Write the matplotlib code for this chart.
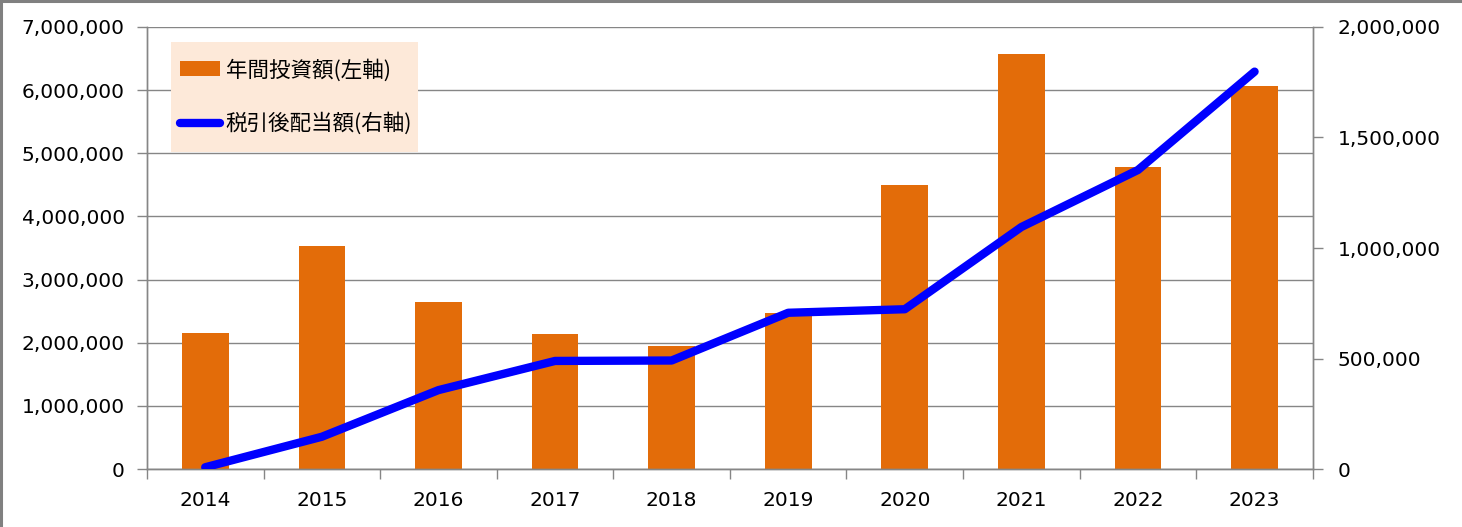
import numpy as np
import matplotlib.pyplot as plt
from matplotlib.ticker import FuncFormatter, FixedLocator
from matplotlib.patches import Rectangle
from matplotlib.lines import Line2D

plt.rcParams['font.family'] = ['DejaVu Sans', 'Noto Sans CJK JP']

# データ
years = ['2014', '2015', '2016', '2017', '2018', '2019', '2020', '2021', '2022', '2023']
invest = [2160000, 3530000, 2650000, 2140000, 1950000, 2470000, 4500000, 6570000, 4790000, 6070000]
dividend = [8000, 146000, 357000, 489000, 491000, 707000, 723000, 1095000, 1353000, 1798000]

bar_label = '年間投資額(左軸)'
line_label = '税引後配当額(右軸)'

grey = '#868686'
fmt = FuncFormatter(lambda v, p: f'{v:,.0f}')

fig = plt.figure(figsize=(14.62, 5.27), dpi=100)
# 外枠 (左と上だけ見えている)
fig.lines.append(Line2D([0.001, 0.001], [0, 1], transform=fig.transFigure, color='#808080', linewidth=2.2))
fig.lines.append(Line2D([0, 1], [0.998, 0.998], transform=fig.transFigure, color='#808080', linewidth=2.2))

ax = fig.add_axes([0.1005, 0.110, 0.7975, 0.8388])
x = np.arange(len(years))

# 棒グラフ (左軸)
bars = ax.bar(x, invest, width=0.40, color='#E36C09', label=bar_label, zorder=2)
ax.set_ylim(0, 7000000)
ax.set_yticks(np.arange(0, 7000001, 1000000))
ax.yaxis.set_major_formatter(fmt)
ax.set_xlim(-0.5, len(years) - 0.5)
ax.set_axisbelow(True)
ax.grid(axis='y', color=grey, linewidth=1)

ax.set_xticks(x)
ax.set_xticklabels(years)
ax.xaxis.set_minor_locator(FixedLocator(np.arange(-0.5, len(years), 1)))
ax.tick_params(axis='x', which='major', length=0, pad=16, labelsize=14.5)
ax.tick_params(axis='x', which='minor', length=7, color=grey, width=1)
ax.tick_params(axis='y', length=7, color=grey, width=1, labelsize=14.5, pad=9)

# 折れ線 (右軸)
ax2 = ax.twinx()
line, = ax2.plot(x, dividend, color='#0000FF', linewidth=6, solid_capstyle='round',
                 solid_joinstyle='round', label=line_label, zorder=3)
ax2.set_ylim(0, 2000000)
ax2.set_yticks(np.arange(0, 2000001, 500000))
ax2.yaxis.set_major_formatter(fmt)
ax2.tick_params(axis='y', length=7, color=grey, width=1, labelsize=14.5, pad=11)

for a in (ax, ax2):
    a.spines['top'].set_visible(False)
    for s in ('left', 'right', 'bottom'):
        a.spines[s].set_color(grey)
        a.spines[s].set_linewidth(1)

# 凡例 (背景は別に塗る)
ax2.add_patch(Rectangle((0.0206, 0.717), 0.2118, 0.249, transform=ax2.transAxes,
                        facecolor='#FDE9D9', edgecolor='none', zorder=4))
leg = ax2.legend([bars, line], [bar_label, line_label], loc='center left',
                 bbox_to_anchor=(0.0283, 0.8416), borderaxespad=0, borderpad=0,
                 prop={'family': ['Noto Sans CJK JP', 'DejaVu Sans'], 'size': 15.5},
                 frameon=False, labelspacing=1.45, handlelength=1.85, handletextpad=0.28)
leg.set_zorder(5)

fig.savefig('out.png', dpi=100)
